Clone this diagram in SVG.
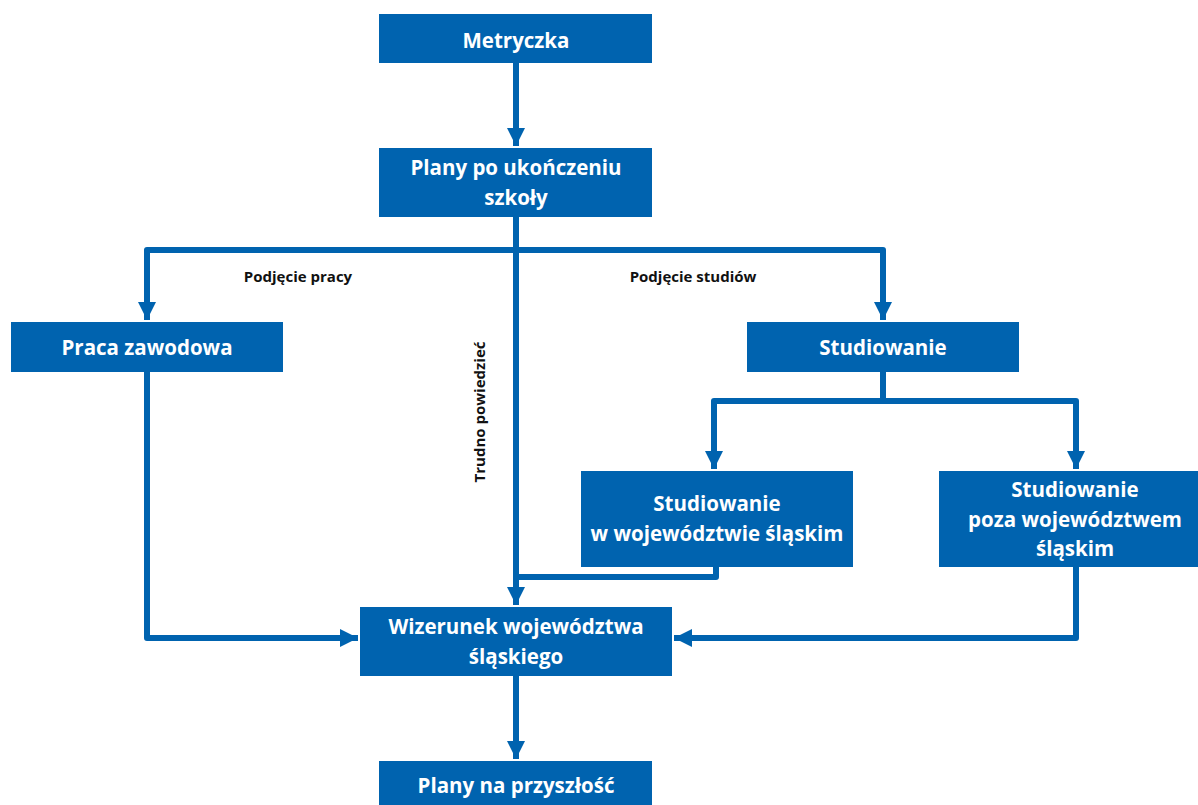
<svg xmlns="http://www.w3.org/2000/svg" width="1198" height="805" viewBox="0 0 1198 805">
<style>
.box{fill:#0063AF}
.t{font-family:"Open Sans","Liberation Sans",sans-serif;font-weight:700;font-size:20.5px;fill:#fff;text-anchor:middle}
.l{font-family:"Open Sans","Liberation Sans",sans-serif;font-weight:700;font-size:15px;fill:#111;text-anchor:middle}
.c{fill:none;stroke:#0063AF;stroke-width:6;stroke-linejoin:round}
</style>
<defs>
<marker id="ah" viewBox="0 0 10 10" refX="10" refY="5" markerWidth="3" markerHeight="3" orient="auto" markerUnits="strokeWidth">
<path d="M0,0 L10,5 L0,10 z" fill="#0063AF"/>
</marker>
</defs>
<rect width="1198" height="805" fill="#fff"/>
<g id="connectors">
<path class="c" d="M516,63 V146" marker-end="url(#ah)"/>
<path class="c" d="M516,217 V250 H147 V320" marker-end="url(#ah)"/>
<path class="c" d="M516,250 H883 V320" marker-end="url(#ah)"/>
<path class="c" d="M516,250 V605" marker-end="url(#ah)"/>
<path class="c" d="M883,372 V401 H714 V469" marker-end="url(#ah)"/>
<path class="c" d="M883,401 H1076 V469" marker-end="url(#ah)"/>
<path class="c" d="M716,567 V577 H516"/>
<path class="c" d="M147,372 V638 H358" marker-end="url(#ah)"/>
<path class="c" d="M1076,567 V638 H674" marker-end="url(#ah)"/>
<path class="c" d="M516,676 V759" marker-end="url(#ah)"/>
<text class="l" x="298" y="282">Podjęcie pracy</text>
<text class="l" x="693" y="282">Podjęcie studiów</text>
<text class="l" transform="translate(485,412) rotate(-90)">Trudno powiedzieć</text>
</g>
<g id="metryczka"><rect class="box" x="379" y="14" width="273" height="49"/><text class="t" x="516" y="48">Metryczka</text></g>
<g id="plany"><rect class="box" x="379" y="148" width="273" height="69"/><text class="t" x="516" y="175">Plany po ukończeniu</text><text class="t" x="516" y="205">szkoły</text></g>
<g id="praca"><rect class="box" x="11" y="322" width="272" height="50"/><text class="t" x="147" y="355">Praca zawodowa</text></g>
<g id="studiowanie"><rect class="box" x="747" y="322" width="272" height="50"/><text class="t" x="883" y="355">Studiowanie</text></g>
<g id="stud-w"><rect class="box" x="581" y="471" width="272" height="96"/><text class="t" x="717" y="511">Studiowanie</text><text class="t" x="717" y="541">w województwie śląskim</text></g>
<g id="stud-poza"><rect class="box" x="939" y="471" width="259" height="96"/><text class="t" x="1075" y="497">Studiowanie</text><text class="t" x="1075" y="527">poza województwem</text><text class="t" x="1075" y="556">śląskim</text></g>
<g id="wizerunek"><rect class="box" x="360" y="607" width="312" height="69"/><text class="t" x="516" y="634">Wizerunek województwa</text><text class="t" x="516" y="664">śląskiego</text></g>
<g id="plany-przyszlosc"><rect class="box" x="379" y="761" width="273" height="44"/><text class="t" x="516" y="793">Plany na przyszłość</text></g>
</svg>
